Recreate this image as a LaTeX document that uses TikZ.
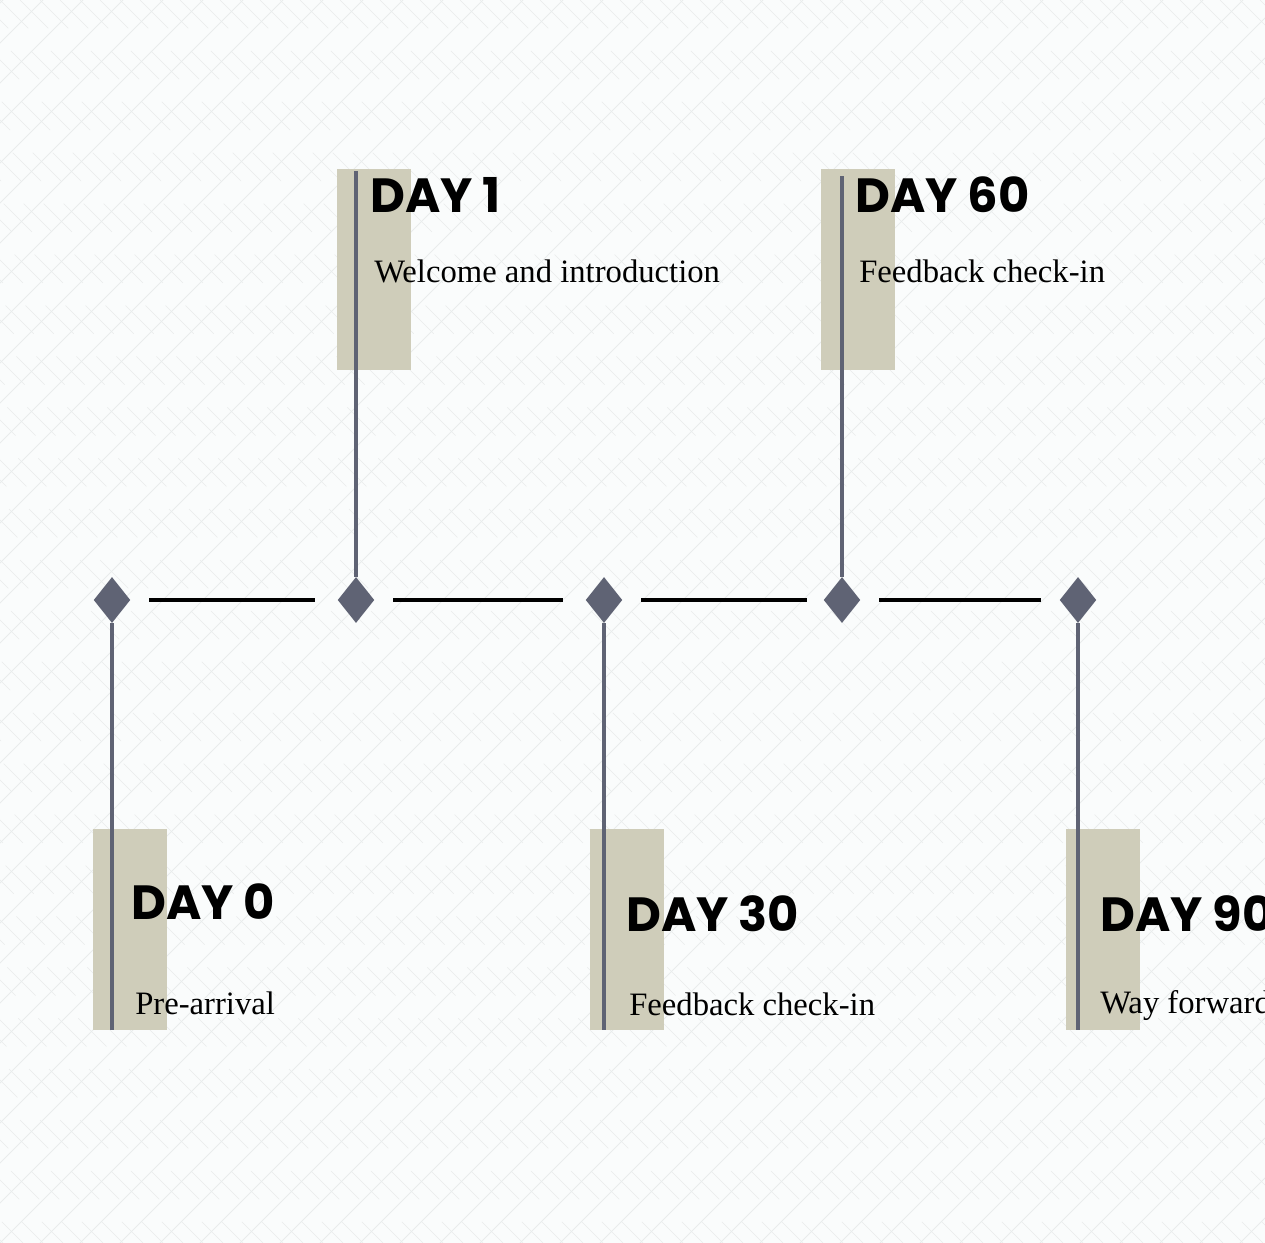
\documentclass[tikz,border=0pt]{standalone}
\usepackage{fontspec}
\setmainfont{Liberation Serif}
\newfontfamily\dayfont{Poppins}
\usetikzlibrary{shapes.geometric,positioning}

\definecolor{paper}{HTML}{FAFCFC}
\definecolor{weave}{HTML}{E9ECEC}
\definecolor{slate}{HTML}{5F6374}
\definecolor{sand}{HTML}{CFCDBA}

\begin{document}
\begin{tikzpicture}[
  x=0.75pt, y=-0.75pt,
  milestone/.style={diamond, fill=slate, inner sep=0pt,
    minimum width=27.5pt, minimum height=34.5pt},
  stem/.style={draw=slate, line width=3pt},
  link/.style={draw=black, line width=2.6pt},
  tab/.style={fill=sand},
  daytitle/.style={anchor=base west, inner sep=0pt,
    font=\dayfont\bfseries\fontsize{36}{40}\selectfont},
  daytext/.style={anchor=base west, inner sep=0pt,
    font=\fontsize{24.5}{28}\selectfont}]
  \clip (0,0) rectangle (1265,1243);
  \fill[paper] (0,0) rectangle (1265,1243);
  % faint diagonal texture
  \foreach \k in {-1240,-1200,...,1280}
    \draw[weave, line width=0.6pt] (\k,1243) -- ++(1243,-1243);
  \foreach \k in {-1240,-1220,...,1280}
    \draw[weave, line width=0.4pt, dash pattern=on 30pt off 24pt] (\k,0) -- ++(1243,1243);

  % tabs behind the stems
  \fill[tab] (337,169) rectangle (411,370);
  \fill[tab] (821,169) rectangle (895,370);
  \fill[tab] (93,829) rectangle (167,1030);
  \fill[tab] (590,829) rectangle (664,1030);
  \fill[tab] (1066,829) rectangle (1140,1030);

  % milestones on the line
  \node[milestone] (d0) at (112,600) {};
  \node[milestone] (d1) at (356,600) {};
  \node[milestone] (d30) at (604,600) {};
  \node[milestone] (d60) at (842,600) {};
  \node[milestone] (d90) at (1078,600) {};

  % stem ends
  \coordinate (e0) at (112,1030);
  \coordinate (e1) at (356,171);
  \coordinate (e30) at (604,1030);
  \coordinate (e60) at (842,176);
  \coordinate (e90) at (1078,1030);

  \draw[stem] (d0) -- (e0);
  \draw[stem] (d1) -- (e1);
  \draw[stem] (d30) -- (e30);
  \draw[stem] (d60) -- (e60);
  \draw[stem] (d90) -- (e90);

  \draw[link, shorten <=14pt, shorten >=17pt] (d0) -- (d1);
  \draw[link, shorten <=14pt, shorten >=17pt] (d1) -- (d30);
  \draw[link, shorten <=14pt, shorten >=12pt] (d30) -- (d60);
  \draw[link, shorten <=14pt, shorten >=14pt] (d60) -- (d90);

  % labels
  \node[daytitle] (t1) at (370,212) {DAY 1};
  \node[daytext] (x1) at (374,282) {Welcome and introduction};
  \node[daytitle] (t60) at (855,212) {DAY 60};
  \node[daytext] (x60) at (859,282) {Feedback check-in};
  \node[daytitle] (t0) at (131,919) {DAY 0};
  \node[daytext] (x0) at (135,1014) {Pre-arrival};
  \node[daytitle] (t30) at (626,931) {DAY 30};
  \node[daytext] (x30) at (629,1015) {Feedback check-in};
  \node[daytitle] (t90) at (1100,931) {DAY 90};
  \node[daytext] (x90) at (1100,1013) {Way forward};
\end{tikzpicture}
\end{document}
